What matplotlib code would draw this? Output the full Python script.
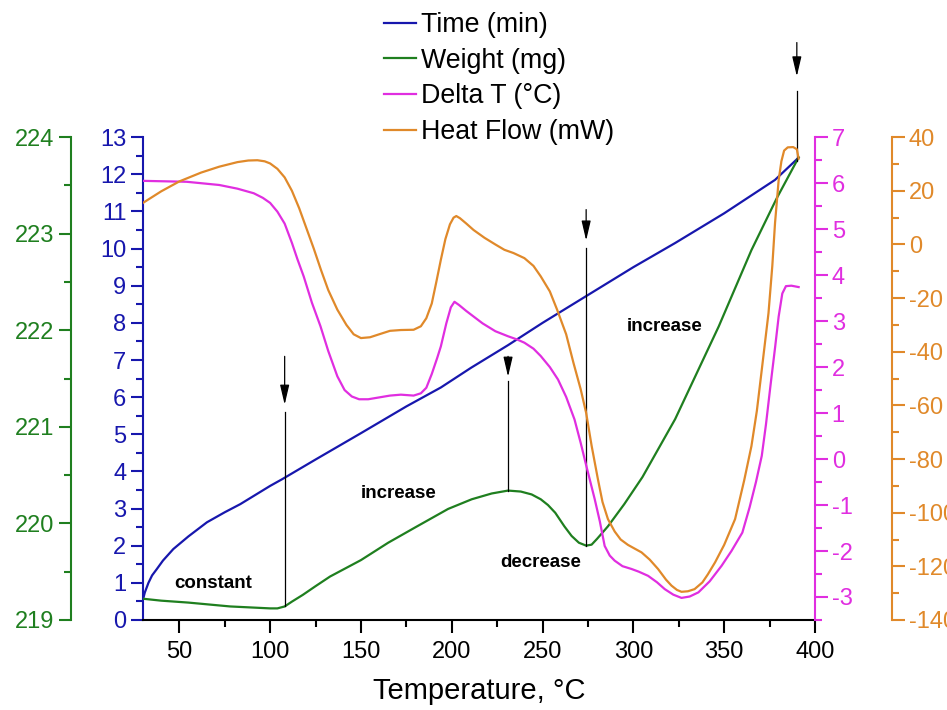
import numpy as np
import matplotlib.pyplot as plt
from matplotlib.ticker import MultipleLocator

plt.rcParams['font.family'] = ['Liberation Sans', 'DejaVu Sans']
plt.rcParams['axes.unicode_minus'] = False

# Time (min) vs temperature
time_t = [30, 31, 33, 35, 37.6, 41, 46.7, 55, 65.2, 75, 83.6, 100, 106.6, 125, 150, 175, 194, 210.6, 231, 250, 274, 300, 323, 350, 378, 391]
time_v = [0.55, 0.74, 1.0, 1.2, 1.37, 1.6, 1.91, 2.25, 2.63, 2.9, 3.12, 3.61, 3.79, 4.32, 5.03, 5.75, 6.26, 6.79, 7.4, 8.0, 8.72, 9.5, 10.15, 10.95, 11.85, 12.45]

# Weight (mg)
weight_t = [30, 40, 55, 78, 100, 104, 108, 112, 118, 125, 133, 150, 165, 180, 198, 211, 222, 231, 238, 244, 249, 253, 257, 262, 266, 270, 274, 277, 280, 286, 295, 305, 323, 347, 365, 379, 391]
weight_v = [219.22, 219.2, 219.18, 219.14, 219.12, 219.12, 219.14, 219.19, 219.26, 219.35, 219.45, 219.62, 219.80, 219.96, 220.15, 220.25, 220.31, 220.34, 220.33, 220.3, 220.25, 220.19, 220.11, 219.97, 219.87, 219.8, 219.77, 219.78, 219.84, 219.97, 220.2, 220.48, 221.08, 222.04, 222.83, 223.37, 223.79]

# Delta T (C)
dt_t = [30, 54, 72, 82, 91, 96, 100, 104, 108, 112, 115, 118.5, 123, 127.7, 132, 137, 141, 145, 149, 154, 160, 166, 172, 179, 183, 186, 189, 192, 194, 197, 199.5, 201.5, 204, 208, 212, 217, 224, 231, 236, 240, 245, 249, 254, 258.5, 263, 267.6, 271, 274.1, 278.7, 281.5, 284.2, 287, 289.7, 294, 298.9, 303, 308.1, 313, 317.3, 322, 326.5, 331, 335.8, 342, 348.6, 354, 360, 364, 367.5, 370.7, 373, 375.5, 378.1, 380, 382, 384, 387, 391]
dt_v = [6.05, 6.03, 5.96, 5.88, 5.78, 5.68, 5.57, 5.38, 5.12, 4.7, 4.35, 3.97, 3.4, 2.89, 2.35, 1.8, 1.5, 1.36, 1.3, 1.3, 1.34, 1.38, 1.4, 1.38, 1.43, 1.55, 1.85, 2.2, 2.45, 2.95, 3.3, 3.42, 3.35, 3.22, 3.1, 2.95, 2.78, 2.67, 2.6, 2.53, 2.4, 2.24, 2.0, 1.73, 1.35, 0.86, 0.35, -0.15, -0.87, -1.35, -1.89, -2.1, -2.21, -2.33, -2.39, -2.45, -2.54, -2.68, -2.83, -2.95, -3.02, -2.99, -2.9, -2.66, -2.32, -2.0, -1.6, -1.05, -0.5, 0.07, 0.75, 1.6, 2.45, 3.1, 3.6, 3.76, 3.77, 3.74]

# Heat Flow (mW)
hf_t = [30, 40, 50, 62, 72, 82, 88, 93, 97, 100, 104, 108, 112, 116, 120, 124, 128, 132, 137, 142, 146, 150, 155, 160, 166, 172, 179, 183, 186, 189, 191.5, 194, 196.5, 199, 201, 202.5, 204.5, 208, 212, 218, 224, 229, 234, 240, 245, 249, 254, 258, 263, 267, 271, 274, 277, 280.5, 283, 286, 289.7, 293, 297, 301, 304.5, 309, 313.6, 318, 321, 324, 326.5, 330, 333.7, 338, 341, 345, 350, 356, 361, 365, 368, 371, 374.4, 376.5, 378, 380, 381.5, 383, 385, 388, 390, 391]
hf_v = [15.5, 19.8, 23.5, 26.8, 29.0, 30.7, 31.3, 31.4, 31.0, 30.2, 28.2, 25.0, 20.0, 13.5, 6.0, -1.5, -9.5, -17.0, -24.3, -30.0, -33.5, -34.9, -34.6, -33.5, -32.2, -31.9, -31.8, -30.5, -27.5, -22.0, -14.0, -5.7, 2.0, 7.5, 10.0, 10.6, 9.8, 7.8, 5.4, 2.5, 0.0, -2.0, -3.2, -5.1, -8.0, -11.9, -17.5, -24.3, -33.5, -44.1, -54.0, -62.8, -75.0, -87.6, -96.0, -102.4, -107.0, -110.0, -112.0, -113.5, -114.8, -117.5, -121.0, -125.0, -127.2, -128.8, -129.5, -129.3, -128.5, -126.0, -123.0, -118.5, -112.0, -102.4, -88.0, -75.2, -62.0, -45.0, -25.6, -8.0, 8.0, 24.0, 31.0, 35.0, 36.2, 36.3, 35.5, 32.0]

# arrows: x position, arrow top, arrow tip, line start (weight axis units)
arrow_x = [108, 231, 274, 390]
arrow_top = [221.73, 221.73, 223.25, 224.98]
arrow_tip = [221.23, 221.52, 222.93, 224.63]
line_top = [221.15, 221.47, 222.85, 224.48]

notes = ['constant', 'increase', 'decrease', 'increase']
note_x = [68.7, 170.8, 249.2, 317.1]
note_y = [0.97, 3.41, 1.56, 7.9]

c_blue = '#1717ad'
c_green = '#1f7f1f'
c_mag = '#e02ee0'
c_orange = '#e0892a'

fig = plt.figure(figsize=(9.47, 7.1), dpi=100)
ax = fig.add_axes([0.151, 0.1268, 0.7096, 0.680])
ax_w = ax.twinx()
ax_d = ax.twinx()
ax_h = ax.twinx()

l1, = ax.plot(time_t, time_v, color=c_blue, lw=1.6, label='Time (min)')
l2, = ax_w.plot(weight_t, weight_v, color=c_green, lw=1.6, label='Weight (mg)')
l3, = ax_d.plot(dt_t, dt_v, color=c_mag, lw=1.6, label='Delta T (\u00b0C)')
l4, = ax_h.plot(hf_t, hf_v, color=c_orange, lw=1.6, label='Heat Flow (mW)')

ax.set_xlim(30, 400)
ax.set_ylim(0, 13)
ax_w.set_ylim(219, 224)
ax_d.set_ylim(-3.5, 7)
ax_h.set_ylim(-140, 40)

# spines
for a in (ax, ax_w, ax_d, ax_h):
    a.spines['top'].set_visible(False)
ax.spines['right'].set_visible(False)
ax.spines['left'].set_color(c_blue)
ax.spines['left'].set_linewidth(1.5)
ax.spines['bottom'].set_linewidth(1.5)

ax_w.spines['right'].set_visible(False)
ax_w.spines['bottom'].set_visible(False)
ax_w.spines['left'].set_visible(True)
ax_w.spines['left'].set_position(('outward', 52))
ax_w.spines['left'].set_color(c_green)
ax_w.spines['left'].set_linewidth(1.5)
ax_w.yaxis.set_ticks_position('left')

ax_d.spines['left'].set_visible(False)
ax_d.spines['bottom'].set_visible(False)
ax_d.spines['right'].set_color(c_mag)
ax_d.spines['right'].set_linewidth(1.5)

ax_h.spines['left'].set_visible(False)
ax_h.spines['bottom'].set_visible(False)
ax_h.spines['right'].set_position(('outward', 55.5))
ax_h.spines['right'].set_color(c_orange)
ax_h.spines['right'].set_linewidth(1.5)

# ticks
ax.xaxis.set_major_locator(MultipleLocator(50))
ax.xaxis.set_minor_locator(MultipleLocator(25))
ax.yaxis.set_major_locator(MultipleLocator(1))
ax.yaxis.set_minor_locator(MultipleLocator(0.5))
ax_w.yaxis.set_major_locator(MultipleLocator(1))
ax_w.yaxis.set_minor_locator(MultipleLocator(0.5))
ax_d.yaxis.set_major_locator(MultipleLocator(1))
ax_d.yaxis.set_minor_locator(MultipleLocator(0.5))
ax_h.yaxis.set_major_locator(MultipleLocator(20))
ax_h.yaxis.set_minor_locator(MultipleLocator(10))

ax.tick_params(axis='x', which='major', length=9, width=1.5, labelsize=17, pad=6)
ax.tick_params(axis='x', which='minor', length=5, width=1.5)
for a, c in ((ax, c_blue), (ax_w, c_green), (ax_d, c_mag), (ax_h, c_orange)):
    a.tick_params(axis='y', which='major', length=9, width=1.5, colors=c, labelsize=17, pad=3)
    a.tick_params(axis='y', which='minor', length=5, width=1.5, colors=c)

ax.set_xlabel('Temperature, \u00b0C', fontsize=21, labelpad=10)

# arrows and lines
for x, top, tip, lt in zip(arrow_x, arrow_top, arrow_tip, line_top):
    ax_w.annotate('', xy=(x, tip), xytext=(x, top), annotation_clip=False,
                  arrowprops=dict(arrowstyle='-|>,head_length=0.6,head_width=0.14',
                                  color='black', lw=0.9, mutation_scale=20, shrinkA=0, shrinkB=0))
    yb = np.interp(x, weight_t, weight_v)
    ax_w.plot([x, x], [lt, yb], color='black', lw=0.9, clip_on=False)

for s, x, y in zip(notes, note_x, note_y):
    ax.text(x, y, s, fontsize=13.5, fontweight='bold', ha='center', va='center')

fig.legend(handles=[l1, l2, l3, l4], loc='upper left', bbox_to_anchor=(0.394, 0.998),
           frameon=False, fontsize=19.3, handlelength=1.2, handletextpad=0.18,
           labelspacing=0.36, borderaxespad=0.1, borderpad=0.3)

fig.savefig('out.png', dpi=100)
